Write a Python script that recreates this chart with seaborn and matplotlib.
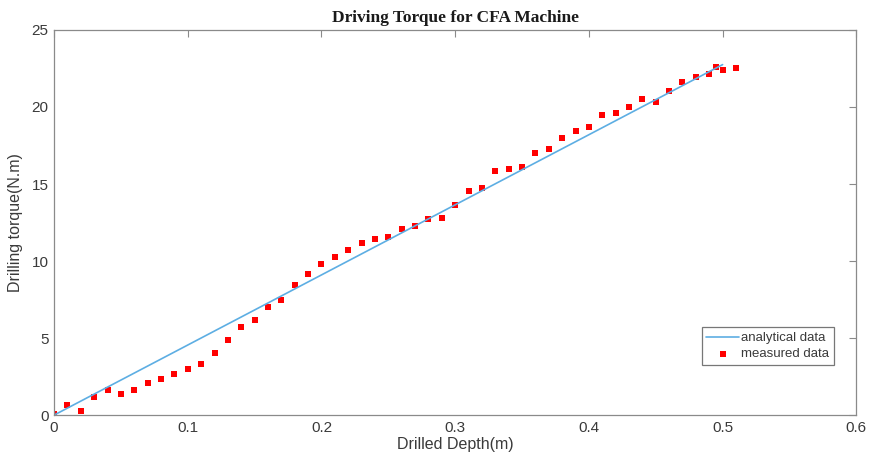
import matplotlib
matplotlib.use("Agg")
import matplotlib.pyplot as plt
import seaborn as sns
import pandas as pd

# Measured data (drilled depth in m, torque in N.m)
depth_measured = [0.00, 0.01, 0.02, 0.03, 0.04, 0.05, 0.06, 0.07, 0.08, 0.09,
                  0.10, 0.11, 0.12, 0.13, 0.14, 0.15, 0.16, 0.17, 0.18, 0.19,
                  0.20, 0.21, 0.22, 0.23, 0.24, 0.25, 0.26, 0.27, 0.28, 0.29,
                  0.30, 0.31, 0.32, 0.33, 0.34, 0.35, 0.36, 0.37, 0.38, 0.39,
                  0.40, 0.41, 0.42, 0.43, 0.44, 0.45, 0.46, 0.47, 0.48, 0.49,
                  0.495, 0.50, 0.51]
torque_measured = [0.1, 0.65, 0.26, 1.2, 1.6, 1.4, 1.6, 2.1, 2.35, 2.7,
                   3.0, 3.3, 4.0, 4.85, 5.7, 6.2, 7.0, 7.5, 8.45, 9.15,
                   9.8, 10.26, 10.7, 11.15, 11.4, 11.55, 12.05, 12.3, 12.7, 12.8,
                   13.65, 14.55, 14.75, 15.85, 15.95, 16.1, 17.0, 17.25, 18.0, 18.45,
                   18.7, 19.5, 19.6, 20.0, 20.5, 20.3, 21.05, 21.6, 21.95, 22.15,
                   22.6, 22.4, 22.5]

# Analytical data
depth_analytical = [0.0, 0.1, 0.2, 0.3, 0.4, 0.5]
torque_analytical = [0.0, 4.55, 9.1, 13.65, 18.2, 22.75]

x_ticks = [0, 0.1, 0.2, 0.3, 0.4, 0.5, 0.6]
x_tick_labels = ["0", "0.1", "0.2", "0.3", "0.4", "0.5", "0.6"]
y_ticks = [0, 5, 10, 15, 20, 25]
y_tick_labels = ["0", "5", "10", "15", "20", "25"]

df_a = pd.DataFrame({"depth": depth_analytical, "torque": torque_analytical})
df_m = pd.DataFrame({"depth": depth_measured, "torque": torque_measured})

sns.set_style("white")
plt.rcParams["font.family"] = ["Liberation Sans", "DejaVu Sans"]

fig = plt.figure(figsize=(8.72, 4.68), dpi=100)
ax = fig.add_axes([0.062, 0.113, 0.92, 0.823])

sns.lineplot(data=df_a, x="depth", y="torque", ax=ax, color="#5DAEE3",
             linewidth=1.2, label="analytical data")
sns.scatterplot(data=df_m, x="depth", y="torque", ax=ax, color="#FF0000",
                marker="s", s=18, linewidth=0, label="measured data")

ax.set_xlim(0, 0.6)
ax.set_ylim(0, 25)
ax.set_xticks(x_ticks)
ax.set_xticklabels(x_tick_labels)
ax.set_yticks(y_ticks)
ax.set_yticklabels(y_tick_labels)
ax.tick_params(direction="in", length=5, width=0.8, colors="#8a8a8a",
               labelsize=11, top=True, right=True, labelcolor="#3a3a3a", pad=4)
for s in ax.spines.values():
    s.set_color("#8a8a8a")
    s.set_linewidth(0.9)

ax.set_xlabel("Drilled Depth(m)", fontsize=11.5, color="#3a3a3a", labelpad=2)
ax.set_ylabel("Drilling torque(N.m)", fontsize=11.5, color="#3a3a3a", labelpad=6)
ax.set_title("Driving Torque for CFA Machine", fontsize=12.5, fontweight="bold",
             family="Liberation Serif", color="#1a1a1a", pad=6)

leg = ax.legend(loc="lower right", bbox_to_anchor=(0.972, 0.13), fontsize=9.5,
                frameon=True, fancybox=False, borderpad=0.35, handlelength=2.5,
                handletextpad=0.15, labelspacing=0.3, borderaxespad=0.0,
                markerscale=1.0)
leg.get_frame().set_edgecolor("#555555")
leg.get_frame().set_linewidth(0.9)
for t in leg.get_texts():
    t.set_color("#3a3a3a")

fig.savefig("out.png", dpi=100)
